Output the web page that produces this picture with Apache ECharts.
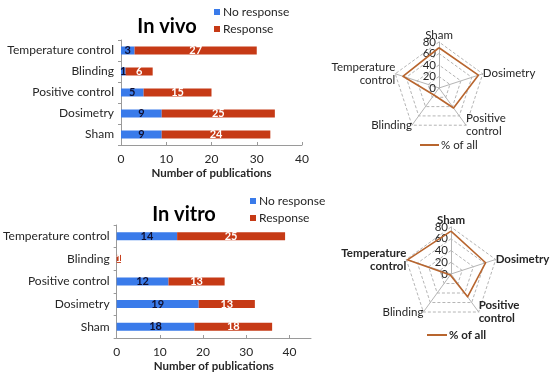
<!DOCTYPE html>
<html>
<head>
<meta charset="utf-8">
<script src="https://cdn.jsdelivr.net/npm/echarts@6/dist/echarts.min.js"></script>
<style>html,body{margin:0;padding:0;background:#fff}#c{width:550px;height:374px}</style>
</head>
<body>
<div id="c"></div>
<script>
// ---- data ----
const categories = ['Sham', 'Dosimetry', 'Positive control', 'Blinding', 'Temperature control'];
const vivoNoResponse = [9, 9, 5, 1, 3];
const vivoResponse = [24, 25, 15, 6, 27];
const vitroNoResponse = [18, 19, 12, 0, 14];
const vitroResponse = [18, 13, 13, 1, 25];
const xTicks = [0, 10, 20, 30, 40];

// radar axes in clockwise order from the top
const radarAxes = ['Sham', 'Dosimetry', 'Positive control', 'Blinding', 'Temperature control'];
const radarAxisLabels = ['Sham', 'Dosimetry', 'Positive\ncontrol', 'Blinding', 'Temperature\ncontrol'];
const vivoPctOfAll = [70, 72, 43, 15, 66];
const vitroPctOfAll = [73, 62, 48, 2, 78];
const radarTicks = [0, 20, 40, 60, 80];

// ---- build ----
const FONT = 'Lato, "Liberation Sans", Arial, sans-serif';
const BLUE = '#3A7BEA';
const RED = '#C63A16';
const RADAR = '#B8652E';
const TXT = '#262626';
const RADAR_MAX = 80;
const radarGeo = [{ c: [439, 88], r: 46 }, { c: [451, 274], r: 47 }];

// ECharts places radar indicators counter-clockwise; reorder
function ccw(arr) { return [arr[0]].concat(arr.slice(1).reverse()); }

function barLabel(color) {
  return {
    show: true, position: 'inside', color: color, fontFamily: FONT,
    fontWeight: 'bold', fontSize: 11,
    formatter: p => (p.value ? p.value : '')
  };
}

function xAxisCfg(gridIndex, max) {
  return {
    type: 'value', gridIndex: gridIndex, min: 0, max: max, interval: 10,
    name: 'Number of publications', nameLocation: 'middle', nameGap: 22,
    nameTextStyle: { fontFamily: FONT, fontWeight: 'bold', fontSize: 11.5, color: TXT },
    axisLine: { show: true, lineStyle: { color: '#9a9a9a' } },
    axisTick: { show: true, inside: true, length: 3, lineStyle: { color: '#9a9a9a' } },
    splitLine: { show: false },
    axisLabel: {
      fontFamily: FONT, fontSize: 12, color: TXT, margin: 8, showMaxLabel: max === 40,
      formatter: v => (xTicks.indexOf(v) >= 0 ? String(v) : '')
    }
  };
}

function yAxisCfg(gridIndex) {
  return {
    type: 'category', gridIndex: gridIndex, data: categories,
    axisLine: { show: true, lineStyle: { color: '#9a9a9a' } },
    axisTick: { show: true, length: 3, lineStyle: { color: '#9a9a9a' } },
    axisLabel: { fontFamily: FONT, fontSize: 12, color: TXT, margin: 7 }
  };
}

// value scales drawn along the radar's top (Sham) axis for the tick labels.
// Two interleaved scales (0/40/80 and 20/60) so that no label is dropped as overlapping.
function radarScaleGrid(g, lo, hi) {
  return { left: g.c[0], top: g.c[1] - g.r * hi / RADAR_MAX, width: 1,
           height: g.r * (hi - lo) / RADAR_MAX, containLabel: false };
}
function radarScaleX(gridIndex) {
  return { type: 'value', gridIndex: gridIndex, show: false, min: 0, max: 1 };
}
function radarScaleY(gridIndex, lo, hi) {
  return {
    type: 'value', gridIndex: gridIndex, min: lo, max: hi, interval: 40,
    axisLine: { show: false }, axisTick: { show: false }, splitLine: { show: false },
    axisLabel: {
      show: true, showMinLabel: true, showMaxLabel: true,
      fontFamily: FONT, fontSize: 11.5, color: TXT, margin: 3,
      formatter: v => (radarTicks.indexOf(v) >= 0 ? String(v) : '')
    }
  };
}

function radarCfg(g, bold) {
  const names = ccw(radarAxisLabels);
  return {
    center: g.c, radius: g.r, startAngle: 90, shape: 'polygon', splitNumber: 4,
    indicator: ccw(radarAxes).map((n, i) => ({ name: names[i], min: 0, max: RADAR_MAX })),
    axisName: {
      fontFamily: FONT, fontSize: 11.5, color: TXT, lineHeight: 13,
      formatter: (name) => (bold && name !== 'Blinding' ? '{b|' + name.replace('\n', '}\n{b|') + '}' : name),
      rich: { b: { fontFamily: FONT, fontSize: 11.5, fontWeight: 'bold', color: TXT, lineHeight: 13 } }
    },
    nameGap: 0,
    axisLine: { lineStyle: { color: '#b5b5b5' } },
    splitLine: { lineStyle: { color: '#b5b5b5', type: [3, 2] } },
    splitArea: { show: false },
    axisLabel: { show: false }
  };
}

const chart = echarts.init(document.getElementById('c'), null, { renderer: 'canvas' });
chart.setOption({
  animation: false,
  backgroundColor: '#fff',
  textStyle: { fontFamily: FONT },
  title: [
    { text: 'In vivo', left: 162, top: 12, textAlign: 'center',
      textStyle: { fontFamily: FONT, fontSize: 20, fontWeight: 'bold', color: '#000' } },
    { text: 'In vitro', left: 179, top: 200, textAlign: 'center',
      textStyle: { fontFamily: FONT, fontSize: 20, fontWeight: 'bold', color: '#000' } }
  ],
  legend: [
    { data: ['No response', 'Response'], orient: 'vertical', left: 209, top: 1,
      itemWidth: 6, itemHeight: 6, itemGap: 5, icon: 'rect',
      textStyle: { fontFamily: FONT, fontSize: 12, color: TXT, padding: [0, 0, 0, -2] } },
    { data: ['No response', 'Response'], orient: 'vertical', left: 245, top: 190,
      itemWidth: 6, itemHeight: 6, itemGap: 5, icon: 'rect',
      textStyle: { fontFamily: FONT, fontSize: 12, color: TXT, padding: [0, 0, 0, -2] } },
    { data: ['% of all'], left: 415, top: 134, icon: 'rect', itemWidth: 19, itemHeight: 2,
      textStyle: { fontFamily: FONT, fontSize: 11.5, color: TXT, padding: [0, 0, 0, -3] } },
    { data: ['% of all'], left: 422, top: 324, icon: 'rect', itemWidth: 20, itemHeight: 2,
      textStyle: { fontFamily: FONT, fontSize: 11.5, fontWeight: 'bold', color: TXT, padding: [0, 0, 0, -3] } }
  ],
  grid: [
    { left: 121, top: 40, width: 181, height: 105, containLabel: false },
    { left: 112, top: 225, width: 199, height: 113, containLabel: false },
    radarScaleGrid(radarGeo[0], 0, 80),
    radarScaleGrid(radarGeo[0], 20, 60),
    radarScaleGrid(radarGeo[1], 0, 80),
    radarScaleGrid(radarGeo[1], 20, 60)
  ],
  xAxis: [xAxisCfg(0, 40), xAxisCfg(1, 45),
          radarScaleX(2), radarScaleX(3), radarScaleX(4), radarScaleX(5)],
  yAxis: [yAxisCfg(0), yAxisCfg(1),
          radarScaleY(2, 0, 80), radarScaleY(3, 20, 60), radarScaleY(4, 0, 80), radarScaleY(5, 20, 60)],
  radar: [radarCfg(radarGeo[0], false), radarCfg(radarGeo[1], true)],
  series: [
    { name: 'No response', type: 'bar', stack: 'vivo', xAxisIndex: 0, yAxisIndex: 0,
      data: vivoNoResponse, barWidth: 8, itemStyle: { color: BLUE }, label: barLabel('#101030') },
    { name: 'Response', type: 'bar', stack: 'vivo', xAxisIndex: 0, yAxisIndex: 0,
      data: vivoResponse, barWidth: 8, itemStyle: { color: RED }, label: barLabel('#ffffff') },
    { name: 'No response', type: 'bar', stack: 'vitro', xAxisIndex: 1, yAxisIndex: 1,
      data: vitroNoResponse, barWidth: 8, itemStyle: { color: BLUE }, label: barLabel('#101030') },
    { name: 'Response', type: 'bar', stack: 'vitro', xAxisIndex: 1, yAxisIndex: 1,
      data: vitroResponse, barWidth: 8, itemStyle: { color: RED }, label: barLabel('#ffffff') },
    { name: '% of all', type: 'radar', radarIndex: 0, symbol: 'none',
      itemStyle: { color: RADAR }, lineStyle: { color: RADAR, width: 1.6 },
      data: [{ value: ccw(vivoPctOfAll), name: '% of all' }] },
    { name: '% of all', type: 'radar', radarIndex: 1, symbol: 'none',
      itemStyle: { color: RADAR }, lineStyle: { color: RADAR, width: 1.6 },
      data: [{ value: ccw(vitroPctOfAll), name: '% of all' }] }
  ]
});
</script>
</body>
</html>
